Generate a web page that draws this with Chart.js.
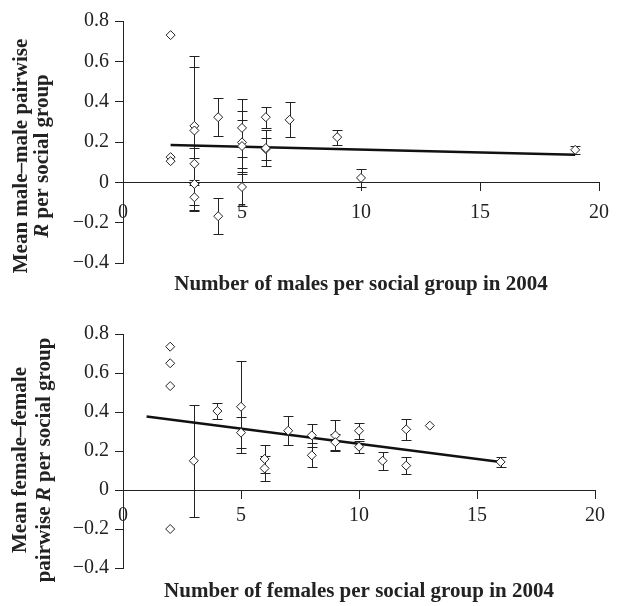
<!DOCTYPE html>
<html>
<head>
<meta charset="utf-8">
<script src="https://cdn.jsdelivr.net/npm/chart.js@4.4.0/dist/chart.umd.min.js"></script>
<style>
  body { margin: 0; background: #fff; }
  .wrap { width: 619px; height: 303px; }
</style>
</head>
<body>
<div class="wrap"><canvas id="male-chart" width="619" height="303"></canvas></div>
<div class="wrap"><canvas id="female-chart" width="619" height="303"></canvas></div>
<script>
//Data
const maleX = [2, 2, 2, 3, 3, 3, 3, 3, 4, 4, 5, 5, 5, 5, 6, 6, 6, 7, 9, 10, 19];
const maleR = [0.73, 0.125, 0.105, 0.28, 0.257, 0.092, -0.008, -0.074, 0.323, -0.168,
  0.27, 0.198, 0.18, -0.023, 0.323, 0.165, 0.17, 0.31, 0.224, 0.022, 0.161];
const maleErr = [0, 0, 0, 0.293, 0.369, 0.08, 0.128, 0.07, 0.095, 0.09,
  0.145, 0.158, 0.13, 0.095, 0.053, 0.054, 0.09, 0.087, 0.037, 0.045, 0.02];
const maleTrendX = [2, 19];
const maleTrendR = [0.185, 0.137];

const femaleX = [2, 2, 2, 2, 3, 4, 5, 5, 6, 6, 7, 8, 8, 9, 9, 10, 10, 11, 12, 12, 13, 16];
const femaleR = [0.735, 0.65, 0.533, -0.2, 0.15, 0.405, 0.427, 0.294, 0.159, 0.111, 0.304,
  0.28, 0.178, 0.28, 0.245, 0.304, 0.222, 0.15, 0.311, 0.125, 0.33, 0.144];
const femaleErr = [0, 0, 0, 0, 0.287, 0.04, 0.236, 0.08, 0.073, 0.063, 0.075,
  0.057, 0.062, 0.078, 0.04, 0.04, 0.03, 0.045, 0.055, 0.045, 0, 0.027];
const femaleTrendX = [1, 16];
const femaleTrendR = [0.377, 0.144];

const xTicks = [0, 5, 10, 15, 20];
const yTicks = [-0.4, -0.2, 0, 0.2, 0.4, 0.6, 0.8];

const ink = '#222';
const serif = '"Liberation Serif", "Times New Roman", serif';
const tickFont = { family: serif, size: 20 };

//draws the vertical error bars with caps, under the points
const errorBars = {
  id: 'errorBars',
  beforeDatasetsDraw(chart, args, opts) {
    const { ctx, scales: { x, y } } = chart;
    ctx.save();
    ctx.strokeStyle = ink;
    ctx.lineWidth = 1;
    opts.x.forEach((xv, i) => {
      const e = opts.err[i];
      if (!e) return;
      const px = Math.round(x.getPixelForValue(xv)) + 0.5;
      const top = Math.round(y.getPixelForValue(opts.r[i] + e)) + 0.5;
      const bot = Math.round(y.getPixelForValue(opts.r[i] - e)) + 0.5;
      ctx.beginPath();
      ctx.moveTo(px, top); ctx.lineTo(px, bot);
      ctx.moveTo(px - 5, top); ctx.lineTo(px + 5, top);
      ctx.moveTo(px - 5, bot); ctx.lineTo(px + 5, bot);
      ctx.stroke();
    });
    ctx.restore();
  }
};

//axis titles (y title has an italic R, so it is drawn in pieces)
const axisTitles = {
  id: 'axisTitles',
  afterDraw(chart, args, opts) {
    const { ctx, chartArea } = chart;
    const font = italic => (italic ? 'italic ' : '') + 'bold 21px ' + serif;
    ctx.save();
    ctx.fillStyle = ink;
    ctx.textBaseline = 'middle';
    ctx.font = font(false);
    ctx.textAlign = 'center';
    ctx.fillText(opts.xTitle, (chartArea.left + chartArea.right) / 2, opts.xTitleY);

    ctx.textAlign = 'left';
    opts.yLines.forEach((parts, i) => {
      let total = 0;
      parts.forEach(p => {
        ctx.font = font(p.italic);
        total += ctx.measureText(p.text).width;
      });
      ctx.save();
      ctx.translate(opts.yTitleX[i], opts.yTitleY);
      ctx.rotate(-Math.PI / 2);
      let pos = -total / 2;
      parts.forEach(p => {
        ctx.font = font(p.italic);
        ctx.fillText(p.text, pos, 0);
        pos += ctx.measureText(p.text).width;
      });
      ctx.restore();
    });
    ctx.restore();
  }
};

function yLabel(v) {
  if (Math.abs(v) < 1e-9) return '0';
  return (v < 0 ? '\u2212' : '') + Math.abs(v).toFixed(1);
}

function makeChart(canvas, xs, rs, errs, trendX, trendR, titles, padding, xPad) {
  return new Chart(canvas, {
    type: 'scatter',
    data: {
      datasets: [{
        data: xs.map((x, i) => ({ x: x, y: rs[i] })),
        pointStyle: 'rectRot',
        radius: 4.5,
        backgroundColor: '#fff',
        borderColor: ink,
        borderWidth: 1,
        order: 1
      }, {
        type: 'line',
        data: trendX.map((x, i) => ({ x: x, y: trendR[i] })),
        borderColor: '#111',
        borderWidth: 2.5,
        pointRadius: 0,
        fill: false,
        order: 2
      }]
    },
    options: {
      responsive: false,
      animation: false,
      events: [],
      layout: { padding: padding },
      scales: {
        x: {
          type: 'linear',
          min: 0,
          max: 20,
          position: { y: 0 },
          afterBuildTicks: scale => { scale.ticks = xTicks.map(v => ({ value: v })); },
          afterFit: scale => { scale.height = 0; },
          border: { color: ink, width: 1 },
          grid: { drawOnChartArea: false, tickLength: 8, color: ink },
          ticks: { color: ink, font: tickFont, padding: xPad, maxRotation: 0 }
        },
        y: {
          min: -0.4,
          max: 0.8,
          afterBuildTicks: scale => { scale.ticks = yTicks.map(v => ({ value: v })); },
          afterFit: scale => { scale.width = 123; },
          border: { color: ink, width: 1 },
          grid: { drawOnChartArea: false, tickLength: 8, color: ink },
          ticks: { color: ink, font: tickFont, padding: 6, callback: yLabel }
        }
      },
      plugins: {
        legend: { display: false },
        tooltip: { enabled: false },
        errorBars: { x: xs, r: rs, err: errs },
        axisTitles: titles
      }
    },
    plugins: [errorBars, axisTitles]
  });
}

const maleChart = makeChart(document.getElementById('male-chart'),
  maleX, maleR, maleErr, maleTrendX, maleTrendR, {
    xTitle: 'Number of males per social group in 2004',
    xTitleY: 285,
    yLines: [
      [{ text: 'Mean male\u2013male pairwise' }],
      [{ text: 'R', italic: true }, { text: ' per social group' }]
    ],
    yTitleX: [22, 43],
    yTitleY: 156
  }, { top: 21, right: 12, bottom: 40, left: 0 }, 10);

const femaleChart = makeChart(document.getElementById('female-chart'),
  femaleX, femaleR, femaleErr, femaleTrendX, femaleTrendR, {
    xTitle: 'Number of females per social group in 2004',
    xTitleY: 289,
    yLines: [
      [{ text: 'Mean female\u2013female' }],
      [{ text: 'pairwise ' }, { text: 'R', italic: true }, { text: ' per social group' }]
    ],
    yTitleX: [21, 45],
    yTitleY: 157
  }, { top: 31, right: 24, bottom: 38, left: 0 }, 6);
</script>
</body>
</html>
